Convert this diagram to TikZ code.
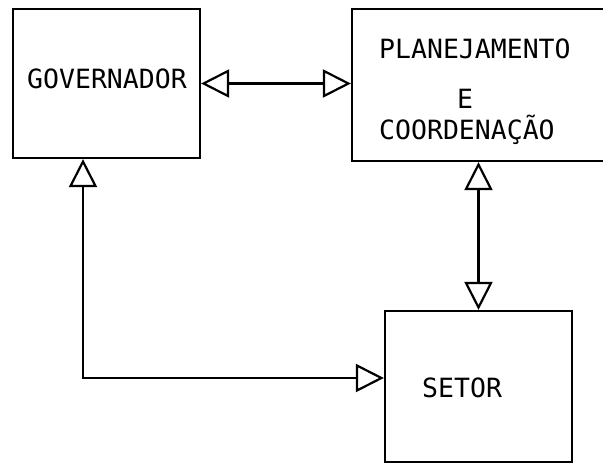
\documentclass[tikz,border=0pt]{standalone}
\usepackage{fontspec}
\newfontfamily\typew{DejaVu Sans Mono}
\usetikzlibrary{arrows.meta}
\tikzset{
  tri/.tip={Triangle[open,length=28pt,width=28pt,line width=2.2pt]},
  box/.style={draw, line width=2.2pt, inner sep=0pt},
  txt/.style={font=\typew\fontsize{26.5}{30}\selectfont, inner sep=0pt, anchor=base west},
  link/.style={line width=2.2pt}
}
\begin{document}
\begin{tikzpicture}[x=1pt,y=-1pt]
\useasboundingbox (0,0) rectangle (603,467);
\clip (0,0) rectangle (603,467);
% boxes
\node[box, minimum width=187pt, minimum height=149pt] (gov) at (106.5,83.5) {};
\node[box, minimum width=270pt, minimum height=152pt] (plan) at (487,85) {};
\node[box, minimum width=187pt, minimum height=151pt] (setor) at (478.5,386.5) {};
% texts
\node[txt] (tgov) at (27,88) {GOVERNADOR};
\node[txt] (tplan1) at (379,58) {PLANEJAMENTO};
\node[txt] (tplan2) at (457,108) {E};
\node[txt] (tplan3) at (379,139) {COORDENAÇÃO};
\node[txt] (tsetor) at (422,397) {SETOR};
% connectors
\coordinate (corner) at (83,378);
\draw[link, {tri}-{tri}] (gov.east) -- (plan.west |- gov.east);
\draw[link, {tri}-{tri}] (gov.south -| corner) -- (corner) -- (setor.west |- corner);
\draw[link, {tri}-{tri}] (plan.south -| setor.north) -- (setor.north);
\end{tikzpicture}
\end{document}
